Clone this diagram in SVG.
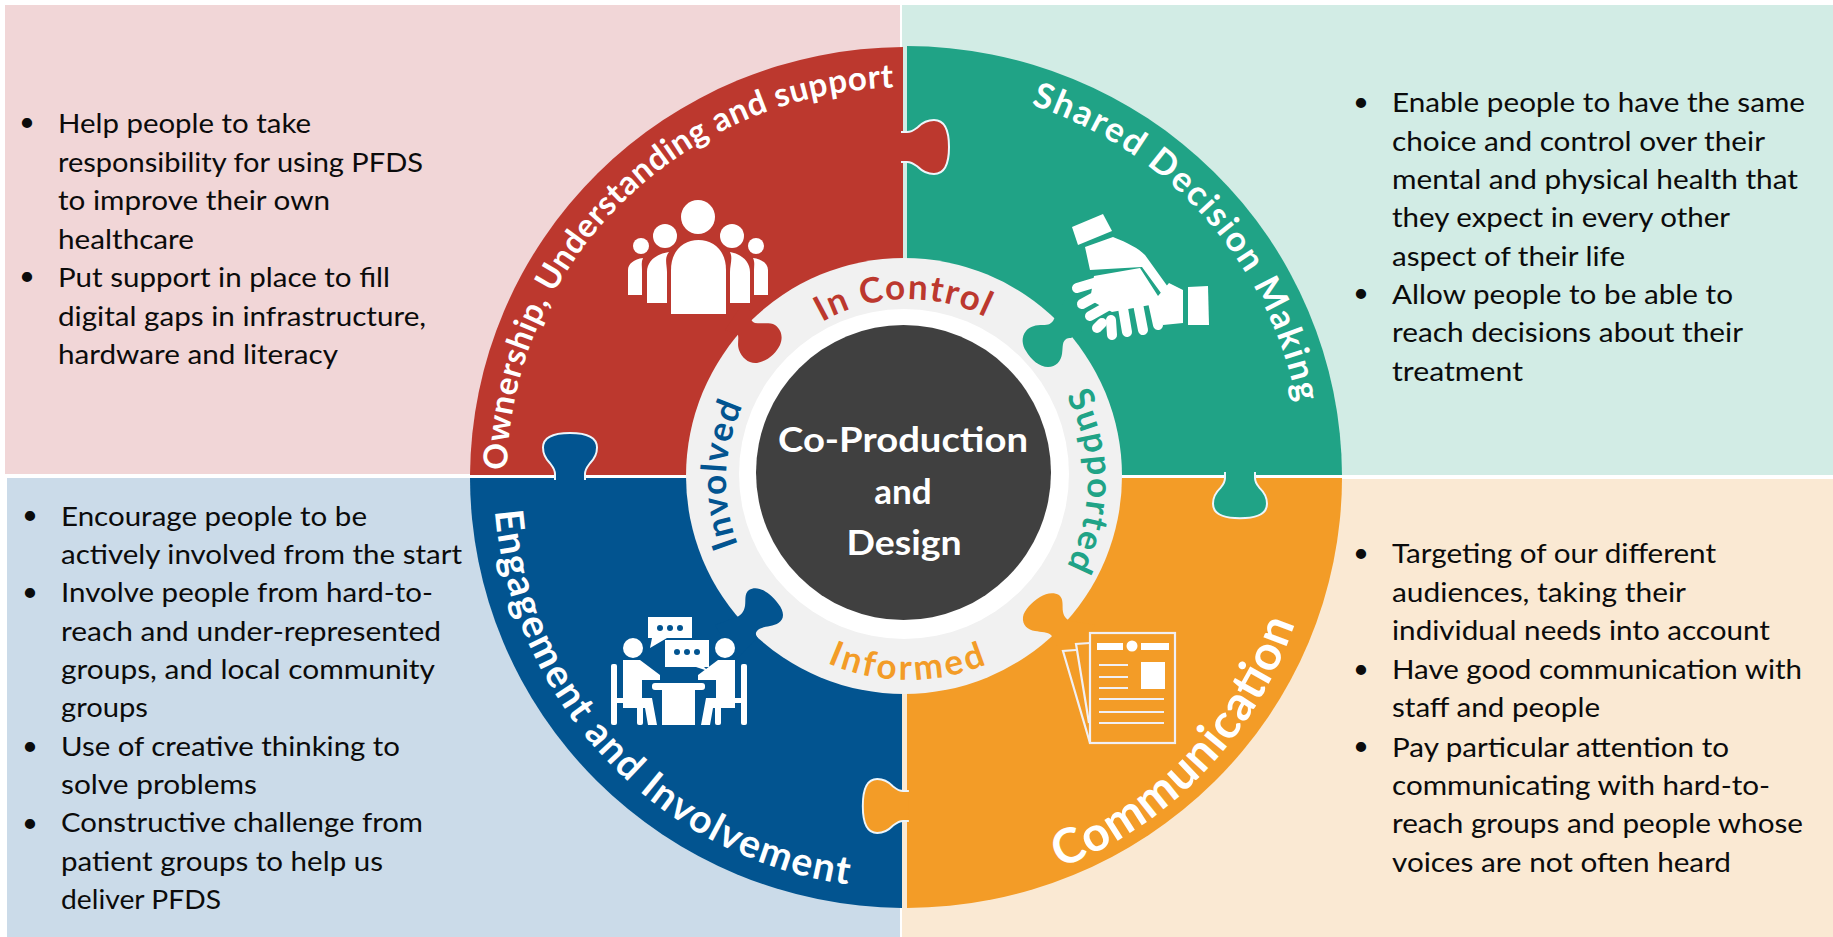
<svg xmlns="http://www.w3.org/2000/svg" width="1833" height="937" viewBox="0 0 1833 937">
<style>
text{font-family:Lato,"Liberation Sans",sans-serif}
.b{font-size:27.5px;fill:#0b0b0b}
.d{font-size:27.5px;fill:#0b0b0b;text-anchor:middle}
.t{font-size:33px;fill:#fff;font-weight:700}
.l{font-size:35px;font-weight:700}
.c{font-size:35px;fill:#fff;font-weight:700;text-anchor:middle}
.i{fill:#fff}
.sm{fill:none;stroke:#fff;stroke-linecap:round}
.dl{fill:none;stroke:#f1f0f4;stroke-width:2.2}
.tab{stroke:#eef6fb;stroke-width:2;stroke-linejoin:round}
</style>
<defs>
<path id="tab" d="M-3,-15 L3,-15 C8,-15 10,-17 14,-20 C19,-25 25,-27 30,-27 C40,-27 45,-17 45,0 C45,17 40,27 30,27 C25,27 19,25 14,20 C10,17 8,15 3,15 L-3,15"/>
<path id="pOwn" d="M507,470 A399 389 0 0 1 930,88"/>
<path id="pSha" d="M1031,105 A397 391 0 0 1 1302,440"/>
<path id="pEng" d="M495,511 A412 410 0 0 0 885,888"/>
<path id="pCom" d="M1060,868 A400 400 0 0 0 1314.500,529.500"/>
<path id="pCtl" d="M822,322 A175 175 0 0 1 1000,325"/>
<path id="pInv" d="M738,545 A178 178 0 0 1 748,395"/>
<path id="pSup" d="M1066,396 A180 180 0 0 1 1055,585"/>
<path id="pInf" d="M827,663 A203 203 0 0 0 1000,658"/>
</defs>
<rect width="1833" height="937" fill="#fff"/>
<g id="panels">
<rect x="5" y="5" width="895" height="469" fill="#F1D6D7"/>
<rect x="902" y="5" width="931" height="470" fill="#D2ECE5"/>
<rect x="7" y="478" width="893" height="459" fill="#CBDBE9"/>
<rect x="902" y="479" width="931" height="458" fill="#FAE9D3"/>
</g>
<g id="quadrant-ownership">
<path d="M903,475 L903,47 A436 431 0 0 0 470,475 Z" fill="#BC382E"/>
</g>
<g id="quadrant-shared">
<path d="M907,475 L907,46 A436 431 0 0 1 1342,475 Z" fill="#20A386"/>
</g>
<g id="quadrant-engagement">
<path d="M902,478 L470,478 A436 431 0 0 0 902,908 Z" fill="#025490"/>
</g>
<g id="quadrant-communication">
<path d="M907,478 L1342,478 A436 431 0 0 1 907,908 Z" fill="#F39C27"/>
</g>
<g id="tabs">
<use href="#tab" class="tab" fill="#BC382E" transform="translate(904,147)"/>
<use href="#tab" class="tab" fill="#20A386" transform="translate(1240,475) rotate(90) scale(.96,1)"/>
<use href="#tab" class="tab" fill="#025490" transform="translate(570,477) rotate(-90) scale(.98,1)"/>
<use href="#tab" class="tab" fill="#F39C27" transform="translate(906,806) rotate(180) scale(.96,1)"/>
</g>
<g id="ring">
<circle cx="904" cy="476" r="218" fill="#F1F1F1"/>
<path fill="#BC382E" d="M751,313 C750,318 751,322 755,323 C762,324 770,322 775,325 C782,330 783,338 780,345 C776,353 768,361 757,363 C749,364 742,358 739,350 C737,344 739,340 738,335 C737,332 735,331 732,333 L725,330 L745,300 Z"/>
<path fill="#20A386" d="M1054,319 C1052,324 1048,325 1043,325 C1036,325 1030,326 1026,331 C1021,337 1022,345 1026,351 C1031,360 1040,367 1048,367 C1056,367 1061,361 1062,354 C1063,348 1062,343 1065,340 C1067,338 1069,338 1071,338 L1090,325 L1065,300 Z"/>
<path fill="#025490" d="M737,617 C741,615 744,612 745,606 C746,600 744,594 749,590 C755,586 763,589 769,594 C776,600 783,608 783,615 C783,622 776,625 770,626 C764,627 759,628 757,631 C755,633 756,636 758,638 L735,660 L715,625 Z"/>
<path fill="#F39C27" d="M1071,621 C1067,620 1064,617 1063,612 C1062,606 1064,599 1059,595 C1054,592 1046,593 1040,597 C1032,602 1024,610 1023,617 C1022,625 1028,630 1035,631 C1041,632 1048,632 1051,635 C1053,637 1053,639 1052,641 L1075,660 L1095,625 Z"/>
</g>
<g id="ring-labels">
<text class="l" fill="#BC382E"><textPath href="#pCtl" textLength="170">In Control</textPath></text>
<text class="l" fill="#025490"><textPath href="#pInv" textLength="143">Involved</textPath></text>
<text class="l" fill="#20A386"><textPath href="#pSup" textLength="177">Supported</textPath></text>
<text class="l" fill="#F39C27"><textPath href="#pInf" textLength="164">Informed</textPath></text>
</g>
<g id="centre">
<circle cx="904" cy="474" r="165" fill="#fff"/>
<circle cx="903.500" cy="472.500" r="147.500" fill="#404040"/>
<text class="c" x="903" y="452" textLength="250" lengthAdjust="spacingAndGlyphs">Co-Production</text>
<text class="c" x="903" y="504">and</text>
<text class="c" x="904" y="555" textLength="115" lengthAdjust="spacingAndGlyphs">Design</text>
</g>
<g id="titles">
<text class="t"><textPath href="#pOwn" textLength="600">Ownership, Understanding and support</textPath></text>
<text class="t" style="font-size:35px"><textPath href="#pSha" textLength="418">Shared Decision Making</textPath></text>
<text class="t" style="font-size:39px"><textPath href="#pEng" textLength="555">Engagement and Involvement</textPath></text>
<text class="t" style="font-size:48px"><textPath href="#pCom" textLength="350">Communication</textPath></text>
</g>
<g id="icon-people">
<g class="i">
<circle cx="698" cy="217" r="17"/>
<circle cx="665" cy="236" r="12"/><circle cx="732" cy="236" r="12"/>
<circle cx="641" cy="246" r="8"/><circle cx="756" cy="246" r="8"/>
<path d="M671,314 V270 C671,250 684,240 698.500,240 C713,240 726,250 726,270 V314 Z"/>
<path d="M647,303 V272 C647,262 655,254 669,252 C664,258 667,265 667,272 V303 Z"/>
<path d="M750,303 V272 C750,262 742,254 730,252 C733,258 730,265 730,272 V303 Z"/>
<path d="M628,295 V270 C628,264 634,259 643,258 C641,262 642,266 642,270 V295 Z"/>
<path d="M768,295 V270 C768,264 762,259 753,258 C755,262 754,266 754,270 V295 Z"/>
</g>
</g>
<g id="icon-handshake">
<g class="i">
<polygon points="1072,227 1103,214 1112,231 1078,245"/>
<polygon points="1188,287 1208,286 1209,325 1188,325"/>
<path d="M1085,247 L1113,237 C1128,243 1138,248 1145,255 L1168,287 C1170,292 1166,296 1161,293 L1142,267 L1090,270 Z"/>
<path d="M1094,276 L1140,268 L1158,296 L1169,283 L1183,290 L1183,323 L1163,325 L1150,305 L1112,312 L1090,300 Z"/>
</g>
<g class="sm" stroke-width="10">
<path d="M1077,288 L1097,282"/><path d="M1082,304 L1102,293"/><path d="M1090,316 L1113,303"/>
<path d="M1097,328 L1102,323"/><path d="M1112,335 L1111,320"/><path d="M1127,332 L1123,308"/><path d="M1143,330 L1138,304"/><path d="M1158,325 L1153,302"/>
</g>
</g>
<g id="icon-meeting">
<g class="i">
<path d="M648,617 H692 V638 H667 L650,648 L652,638 H648 Z"/>
<path d="M665,640 H709 V667 H704 L708,671 L696,667 H665 Z"/>
<circle cx="633" cy="648" r="10"/><circle cx="725" cy="648" r="10"/>
<rect x="652" y="683" width="53" height="7" rx="3"/>
<rect x="662" y="690" width="33" height="35"/>
<path d="M623,660 H640 L660,675 V680 H642 V698 H652 L657,725 H648 L645,708 H623 Z"/>
<path d="M735,660 H718 L698,675 V680 H716 V698 H706 L701,725 H710 L713,708 H735 Z"/>
<rect x="611" y="664" width="6" height="61" rx="2"/><rect x="741" y="664" width="6" height="61" rx="2"/>
<rect x="611" y="698" width="34" height="5"/><rect x="713" y="698" width="34" height="5"/>
<rect x="637" y="703" width="6" height="22" rx="2"/><rect x="715" y="703" width="6" height="22" rx="2"/>
</g>
<g fill="#025490">
<circle cx="660" cy="628" r="3"/><circle cx="670" cy="628" r="3"/><circle cx="680" cy="628" r="3"/>
<circle cx="677" cy="652" r="3"/><circle cx="687" cy="652" r="3"/><circle cx="697" cy="652" r="3"/>
</g>
</g>
<g id="icon-document">
<rect class="dl" x="1090" y="633" width="85" height="110"/>
<path class="dl" d="M1090,643 L1076,644 L1089,723"/>
<path class="dl" d="M1076,650 L1063,651 L1090,743"/>
<g class="i">
<rect x="1097" y="643" width="26" height="7"/><circle cx="1132" cy="646" r="5.500"/><rect x="1141" y="643" width="28" height="7"/>
<rect x="1141" y="662" width="24" height="27"/>
</g>
<path class="dl" d="M1099,665 H1128 M1099,677 H1128 M1099,688 H1128 M1099,699 H1164 M1099,712 H1164 M1099,723 H1164"/>
</g>
<g id="text-ownership">
<text class="d" x="27" y="131">•</text>
<text class="b" lengthAdjust="spacingAndGlyphs" x="58" y="133" textLength="253">Help people to take</text>
<text class="b" lengthAdjust="spacingAndGlyphs" x="58" y="171.600" textLength="365">responsibility for using PFDS</text>
<text class="b" lengthAdjust="spacingAndGlyphs" x="58" y="210" textLength="272">to improve their own</text>
<text class="b" lengthAdjust="spacingAndGlyphs" x="58" y="248.600" textLength="136">healthcare</text>
<text class="d" x="27" y="285">•</text>
<text class="b" lengthAdjust="spacingAndGlyphs" x="58" y="287" textLength="332">Put support in place to fill</text>
<text class="b" lengthAdjust="spacingAndGlyphs" x="58" y="325.500" textLength="368">digital gaps in infrastructure,</text>
<text class="b" lengthAdjust="spacingAndGlyphs" x="58" y="363.500" textLength="280">hardware and literacy</text>
</g>
<g id="text-shared">
<text class="d" x="1361" y="111">•</text>
<text class="b" lengthAdjust="spacingAndGlyphs" x="1392" y="112.300" textLength="413">Enable people to have the same</text>
<text class="b" lengthAdjust="spacingAndGlyphs" x="1392" y="150.700" textLength="373">choice and control over their</text>
<text class="b" lengthAdjust="spacingAndGlyphs" x="1392" y="189" textLength="406">mental and physical health that</text>
<text class="b" lengthAdjust="spacingAndGlyphs" x="1392" y="227.300" textLength="338">they expect in every other</text>
<text class="b" lengthAdjust="spacingAndGlyphs" x="1392" y="265.700" textLength="233">aspect of their life</text>
<text class="d" x="1361" y="302">•</text>
<text class="b" lengthAdjust="spacingAndGlyphs" x="1392" y="304" textLength="341">Allow people to be able to</text>
<text class="b" lengthAdjust="spacingAndGlyphs" x="1392" y="342.300" textLength="351">reach decisions about their</text>
<text class="b" lengthAdjust="spacingAndGlyphs" x="1392" y="380.700" textLength="131">treatment</text>
</g>
<g id="text-engagement">
<text class="d" x="30" y="524">•</text>
<text class="b" lengthAdjust="spacingAndGlyphs" x="61" y="525.700" textLength="306">Encourage people to be</text>
<text class="b" lengthAdjust="spacingAndGlyphs" x="61" y="564" textLength="401">actively involved from the start</text>
<text class="d" x="30" y="601">•</text>
<text class="b" lengthAdjust="spacingAndGlyphs" x="61" y="602.300" textLength="372">Involve people from hard-to-</text>
<text class="b" lengthAdjust="spacingAndGlyphs" x="61" y="640.700" textLength="380">reach and under-represented</text>
<text class="b" lengthAdjust="spacingAndGlyphs" x="61" y="679" textLength="374">groups, and local community</text>
<text class="b" lengthAdjust="spacingAndGlyphs" x="61" y="717.300" textLength="87">groups</text>
<text class="d" x="30" y="755">•</text>
<text class="b" lengthAdjust="spacingAndGlyphs" x="61" y="755.700" textLength="339">Use of creative thinking to</text>
<text class="b" lengthAdjust="spacingAndGlyphs" x="61" y="794" textLength="196">solve problems</text>
<text class="d" x="30" y="832">•</text>
<text class="b" lengthAdjust="spacingAndGlyphs" x="61" y="832.300" textLength="362">Constructive challenge from</text>
<text class="b" lengthAdjust="spacingAndGlyphs" x="61" y="870.700" textLength="322">patient groups to help us</text>
<text class="b" lengthAdjust="spacingAndGlyphs" x="61" y="909" textLength="160">deliver PFDS</text>
</g>
<g id="text-communication">
<text class="d" x="1361" y="562">•</text>
<text class="b" lengthAdjust="spacingAndGlyphs" x="1392" y="563.300" textLength="324">Targeting of our different</text>
<text class="b" lengthAdjust="spacingAndGlyphs" x="1392" y="601.700" textLength="294">audiences, taking their</text>
<text class="b" lengthAdjust="spacingAndGlyphs" x="1392" y="640" textLength="378">individual needs into account</text>
<text class="d" x="1361" y="678">•</text>
<text class="b" lengthAdjust="spacingAndGlyphs" x="1392" y="679" textLength="410">Have good communication with</text>
<text class="b" lengthAdjust="spacingAndGlyphs" x="1392" y="717.300" textLength="208">staff and people</text>
<text class="d" x="1361" y="755">•</text>
<text class="b" lengthAdjust="spacingAndGlyphs" x="1392" y="756.700" textLength="337">Pay particular attention to</text>
<text class="b" lengthAdjust="spacingAndGlyphs" x="1392" y="795" textLength="378">communicating with hard-to-</text>
<text class="b" lengthAdjust="spacingAndGlyphs" x="1392" y="833.300" textLength="411">reach groups and people whose</text>
<text class="b" lengthAdjust="spacingAndGlyphs" x="1392" y="871.700" textLength="339">voices are not often heard</text>
</g>
</svg>
